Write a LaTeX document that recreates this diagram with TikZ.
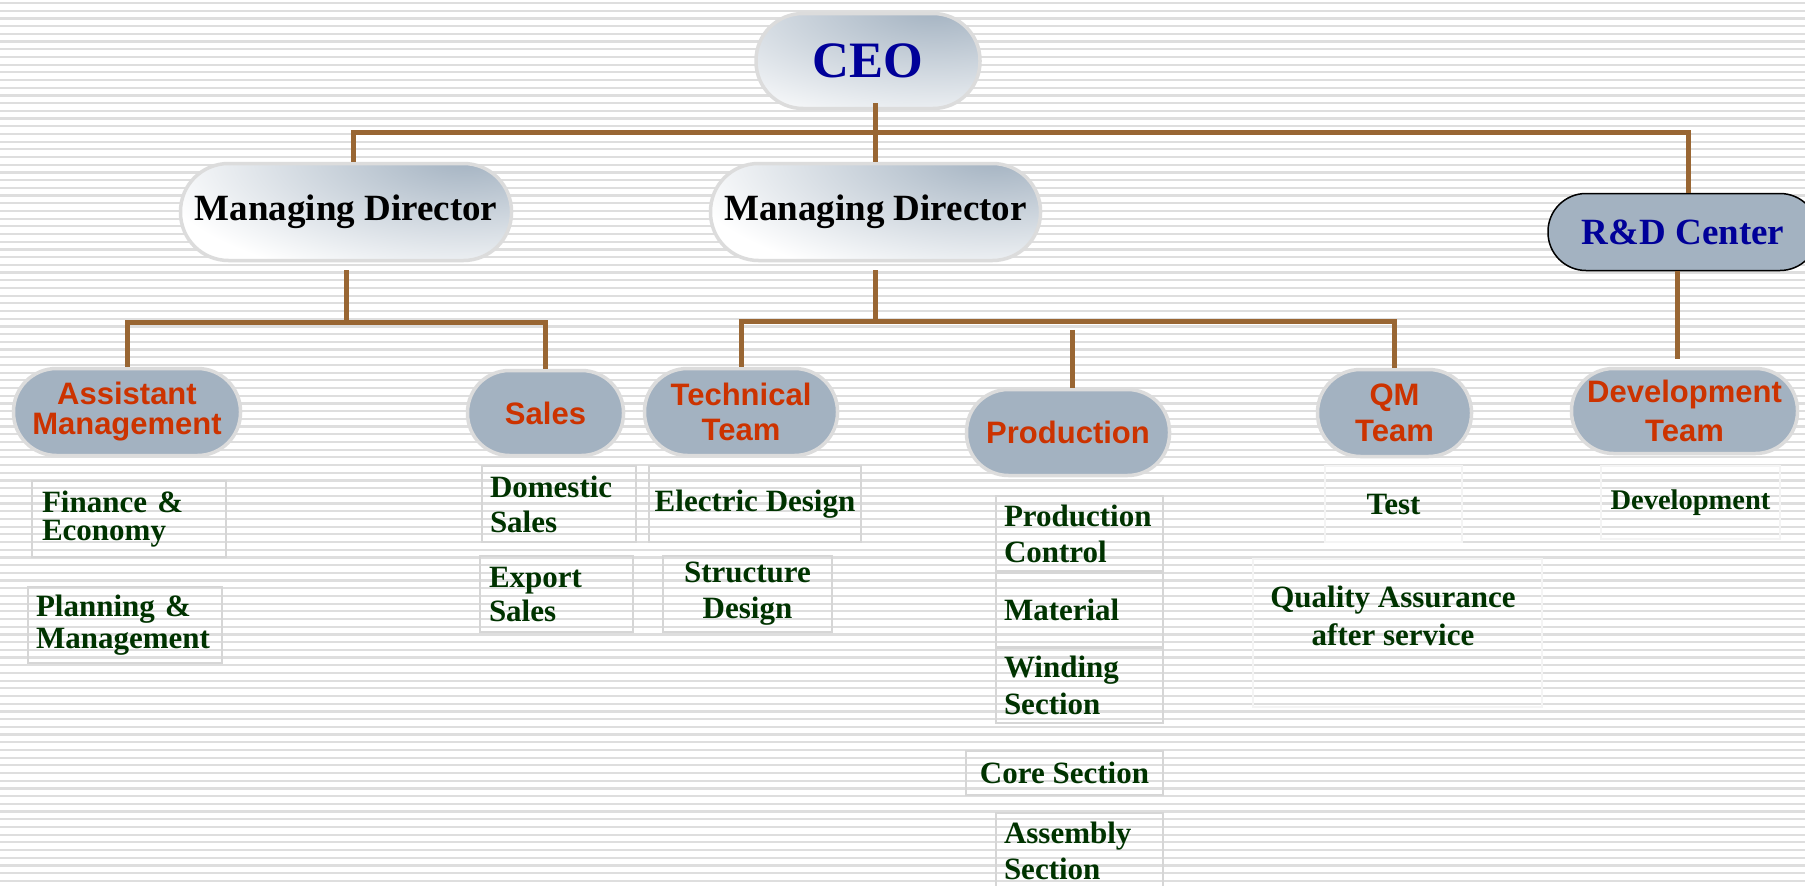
\documentclass[tikz,border=0pt]{standalone}
\usepackage{fontspec}
\setmainfont{Liberation Serif}
\newfontfamily\sansfam{Liberation Sans}
\usetikzlibrary{calc}
\definecolor{brownline}{HTML}{996633}
\definecolor{pillfill}{HTML}{A3B2C1}
\definecolor{pillborder}{HTML}{DCDCDC}
\definecolor{subborder}{HTML}{D6D6D6}
\definecolor{faintborder}{HTML}{F4F4F4}
\definecolor{ceoblue}{HTML}{000099}
\definecolor{orangetxt}{HTML}{CC3300}
\definecolor{subgreen}{HTML}{003300}
\definecolor{stripegray}{HTML}{DEDEDE}
\begin{document}
\begin{tikzpicture}[x=1pt,y=-1pt,
  stripe/.style={draw=stripegray, line width=2.2pt},
  conn/.style={draw=brownline, line width=5pt},
  pillbase/.style={draw=pillborder, line width=3.5pt, inner sep=0pt, align=center},
  whitepill/.style={pillbase, fill=white,
    path picture={\shade[inner color=pillfill, outer color=white]
      ($(path picture bounding box.north east)+(-45pt,6pt)$) ellipse [x radius=320pt, y radius=130pt];}},
  greypill/.style={pillbase, fill=pillfill, text=orangetxt,
    font=\sansfam\bfseries\fontsize{31}{#1}\selectfont},
  subbox/.style={draw=subborder, line width=1.5pt, inner sep=0pt, text=subgreen,
    font=\bfseries\fontsize{31}{#1}\selectfont},
  faintbox/.style={subbox=#1, draw=faintborder},
]
\clip (0,0) rectangle (1805,886);
\fill[white] (0,0) rectangle (1805,886);
\foreach \i in {0,...,116} \draw[stripe] (0,{3+\i*7.7}) -- (1805,{3+\i*7.7});

% top level
\node[whitepill, minimum width=224pt, minimum height=95pt, rounded corners=47pt,
  text=ceoblue, font=\bfseries\fontsize{51}{51}\selectfont] (ceo) at (868,61) {CEO};
\node[whitepill, minimum width=331pt, minimum height=97pt, rounded corners=48pt,
  text=black, font=\bfseries\fontsize{37}{37}\selectfont] (md1) at (346,212) {Managing Director};
\node[whitepill, minimum width=330pt, minimum height=97pt, rounded corners=48pt,
  text=black, font=\bfseries\fontsize{37}{37}\selectfont] (md2) at (875.5,212) {Managing Director};
\node[draw=black, line width=1.5pt, fill=pillfill, inner sep=0pt, minimum width=270pt,
  minimum height=77pt, rounded corners=38pt, text=ceoblue,
  font=\bfseries\fontsize{37}{37}\selectfont] (rd) at (1683,232) {R\&D Center};

% second level
\node[greypill=30, minimum width=227pt, minimum height=87pt, rounded corners=43pt] (am) at (127,412) {Assistant\\Management};
\node[greypill=31, minimum width=156pt, minimum height=85pt, rounded corners=42pt] (sales) at (545.5,413) {Sales};
\node[greypill=35, minimum width=193pt, minimum height=87pt, rounded corners=43pt] (tech) at (741,412) {Technical\\Team};
\node[greypill=31, minimum width=203pt, minimum height=86pt, rounded corners=42pt] (prod) at (1068,432.5) {Production};
\node[greypill=36, minimum width=154pt, minimum height=87pt, rounded corners=43pt] (qm) at (1394.5,413) {QM\\Team};
\node[greypill=39, minimum width=226pt, minimum height=85pt, rounded corners=42pt] (dev) at (1684.5,411) {Development\\Team};

% sub boxes
\node[subbox=28, align=left, inner xsep=10pt, text width=174pt, minimum height=76pt] (fin) at (129,519) {Finance \&\\Economy};
\node[subbox=32, align=left, inner xsep=8pt, text width=178pt, minimum height=76pt] (plan) at (125,625) {Planning \&\\Management};
\node[subbox=35, align=left, inner xsep=8pt, text width=138pt, minimum height=76pt] (dom) at (559,504) {Domestic\\Sales};
\node[subbox=34, align=left, inner xsep=9pt, text width=135pt, minimum height=76pt] (exp) at (556.5,594) {Export\\Sales};
\node[subbox=31, align=center, minimum width=212pt, minimum height=76pt] (elec) at (755,504) {Electric Design};
\node[subbox=36, align=center, minimum width=169pt, minimum height=76pt] (struct) at (747.5,594) {Structure\\Design};
\node[subbox=36, align=left, inner xsep=8pt, text width=151pt, minimum height=75pt] (pc) at (1079.5,533.5) {Production\\Control};
\node[subbox=36, align=left, inner xsep=8pt, text width=151pt, minimum height=74pt] (mat) at (1079.5,610) {Material};
\node[subbox=37, align=left, inner xsep=8pt, text width=151pt, minimum height=75pt] (wind) at (1079.5,685.5) {Winding\\Section};
\node[subbox=31, align=center, minimum width=197pt, minimum height=44pt] (core) at (1064.5,773) {Core Section};
\node[subbox=36, align=left, inner xsep=8pt, text width=151pt, minimum height=75pt] (asm) at (1079.5,850.5) {Assembly\\Section};
\node[faintbox=31, align=center, minimum width=137pt, minimum height=76pt] (test) at (1393.5,504) {Test};
\node[faintbox=38, minimum width=289pt, minimum height=148pt] (qa) at (1397.5,633) {};
\node[text=subgreen, font=\bfseries\fontsize{31}{38}\selectfont, align=center, inner sep=0pt, anchor=base] (qatext) at (1393,645) {Quality Assurance\\after service};
\node[faintbox=29, font=\bfseries\fontsize{28.5}{30}\selectfont, align=center, minimum width=179pt, minimum height=73pt] (devsub) at (1690.5,502.5) {Development};

% connectors
\coordinate (tb1) at (353,132);
\coordinate (tb2) at (1688,132);
\coordinate (j1) at (346,322);
\coordinate (j2) at (875.5,321);
\coordinate (rdl) at (1677,271);
\draw[conn] ($(ceo.south -| md2.north)+(0,-7)$) -- (md2.north);
\draw[conn] (tb1 |- md1.north) -- (tb1) -- (tb2) -- (tb2 |- rd.north);
\draw[conn] ($(md1.south)+(0,8)$) -- (j1);
\draw[conn] (am.north) |- (j1) -| (sales.north);
\draw[conn] ($(md2.south)+(0,8)$) -- (j2);
\draw[conn] (tech.north) |- (j2) -| (qm.north);
\draw[conn] ($(prod.north)+(4,-58)$) -- ($(prod.north)+(4,0)$);
\draw[conn] (rdl |- rd.south) -- ($(rdl |- dev.north)+(0,-8)$);
\end{tikzpicture}
\end{document}
